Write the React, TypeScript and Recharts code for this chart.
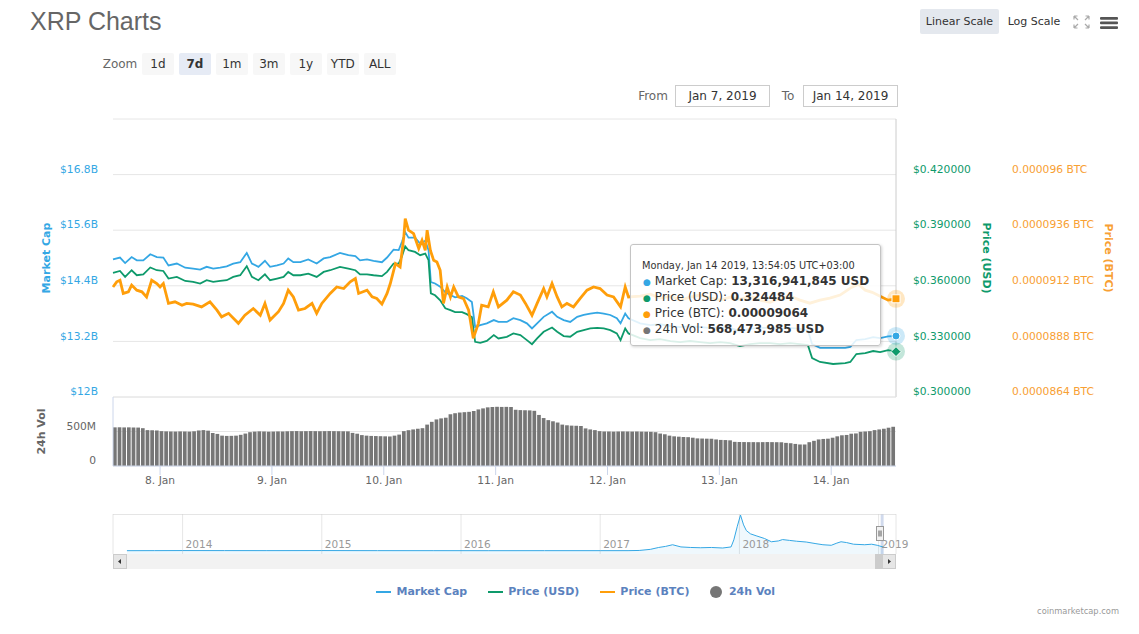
import {
  ComposedChart,
  Line,
  Bar,
  Area,
  XAxis,
  YAxis,
  CartesianGrid,
  ReferenceLine,
  ReferenceArea } from
'recharts';

const FONT = '"DejaVu Sans", Verdana, sans-serif';
const CAP_COLOR = '#34a7e4';
const USD_COLOR = '#0e9a6b';
const BTC_COLOR = '#ff9e0a';
const BTC_TEXT = '#f8a033';
const VOL_COLOR = '#767676';
const AXIS_LINE = '#ccd6eb';
const GRID = '#e6e6e6';

// axis ids: recharts stacks same-side axes in id order, so r1 sits next to the plot
const CAP_AXIS = 'l1cap';
const USD_AXIS = 'r1usd';
const BTC_AXIS = 'r2btc';

// hours since Jan 7 2019 00:00 (UTC+3); the 7d view runs Jan 7 13:54 → Jan 14 13:54
const VIEW_START = 13.9;
const VIEW_END = 181.9;

const dayTicks = [24, 48, 72, 96, 120, 144, 168];
const dayLabels = ['8. Jan', '9. Jan', '10. Jan', '11. Jan', '12. Jan', '13. Jan', '14. Jan'];

const capTicks = [12, 13.2, 14.4, 15.6, 16.8, 18];
const usdTicks = [0.3, 0.33, 0.36, 0.39, 0.42, 0.45];
const btcTicks = [8640, 8880, 9120, 9360, 9600, 9840]; // satoshi
const volTicks = [0, 500, 1000]; // millions

// market cap (billion USD) and price (USD) share the same sample times
const capHours = [
13.9, 15.4, 16.5, 17.9, 19.0, 20.4, 21.9, 23.3, 24.7, 25.8, 27.6, 29.4, 31.1, 32.6, 34.0, 35.4,
36.9, 38.3, 39.7, 41.2, 42.6, 43.7, 45.1, 46.5, 47.6, 49.1, 50.5, 51.5, 52.6, 54.1, 55.8, 57.6,
59.1, 60.5, 62.6, 64.4, 65.9, 66.9, 68.4, 69.8, 71.6, 72.7, 74.1, 75.2, 75.9, 76.6, 77.3, 78.7,
79.8, 80.9, 81.6, 82.1, 83.0, 84.1, 85.2, 86.3, 87.3, 88.8, 89.8, 90.9, 91.6, 92.7, 94.1, 95.6,
96.6, 98.4, 99.8, 101.3, 102.7, 103.8, 104.9, 106.3, 108.1, 109.2, 110.6, 112.0, 113.5, 114.9,
116.3, 117.8, 119.2, 120.6, 122.0, 122.8, 123.8, 124.5, 127.0, 129.2, 131.3, 133.5, 135.6, 137.7,
139.9, 142.0, 144.2, 146.3, 148.4, 150.6, 152.7, 154.9, 157.0, 159.2, 161.3, 163.0, 163.9, 165.6,
168.4, 171.0, 172.1, 173.4, 175.3, 177.0, 178.5, 180.2, 181.9];

const capValues = [
14.97, 15.01, 14.89, 15.02, 14.95, 14.95, 15.08, 15.02, 15.01, 14.84, 14.88, 14.79, 14.77, 14.75, 14.81, 14.77,
14.79, 14.82, 14.88, 14.91, 15.11, 14.88, 14.81, 14.94, 14.81, 14.84, 14.88, 14.99, 14.91, 14.91, 14.97, 14.88,
14.99, 15.02, 15.11, 15.06, 15.04, 14.95, 14.97, 14.94, 14.91, 15.01, 15.18, 15.17, 15.35, 15.56, 15.44, 15.44,
15.31, 15.37, 15.17, 14.48, 14.45, 14.38, 14.26, 14.20, 14.15, 14.18, 14.13, 14.05, 13.51, 13.55, 13.59, 13.66,
13.62, 13.62, 13.70, 13.66, 13.59, 13.48, 13.59, 13.73, 13.84, 13.73, 13.66, 13.62, 13.73, 13.77,
13.80, 13.82, 13.80, 13.77, 13.70, 13.59, 13.80, 13.70, 13.59, 13.55, 13.57, 13.53, 13.51, 13.53,
13.51, 13.49, 13.51, 13.49, 13.42, 13.47, 13.49, 13.49, 13.47, 13.49, 13.47, 13.44, 13.14, 13.06,
13.06, 13.06, 13.08, 13.23, 13.25, 13.29, 13.27, 13.31, 13.316941845];

const usdValues = [
0.3670, 0.3680, 0.3648, 0.3684, 0.3657, 0.3662, 0.3699, 0.3684, 0.3680, 0.3639, 0.3648, 0.3626, 0.3621, 0.3612, 0.3630, 0.3621,
0.3626, 0.3630, 0.3648, 0.3657, 0.3706, 0.3648, 0.3630, 0.3662, 0.3630, 0.3639, 0.3648, 0.3675, 0.3657, 0.3657, 0.3666, 0.3648,
0.3675, 0.3684, 0.3702, 0.3693, 0.3684, 0.3662, 0.3662, 0.3657, 0.3652, 0.3675, 0.3720, 0.3720, 0.3759, 0.3813, 0.3792, 0.3783,
0.3765, 0.3774, 0.3738, 0.3559, 0.3549, 0.3522, 0.3479, 0.3469, 0.3458, 0.3458, 0.3447, 0.3431, 0.3298, 0.3292, 0.3303, 0.3334,
0.3316, 0.3325, 0.3343, 0.3334, 0.3307, 0.3285, 0.3316, 0.3352, 0.3375, 0.3352, 0.3329, 0.3325, 0.3352, 0.3361,
0.3370, 0.3373, 0.3370, 0.3361, 0.3343, 0.3307, 0.3370, 0.3343, 0.3318, 0.3307, 0.3312, 0.3302, 0.3296, 0.3302,
0.3296, 0.3291, 0.3296, 0.3291, 0.3275, 0.3285, 0.3291, 0.3291, 0.3285, 0.3291, 0.3285, 0.3280, 0.3210, 0.3189,
0.3178, 0.3183, 0.3189, 0.3232, 0.3237, 0.3248, 0.3242, 0.3253, 0.324484];

// price in BTC, stored in satoshi
const btcHours = [
13.9, 14.7, 15.4, 16.1, 17.2, 17.9, 19.0, 20.1, 21.1, 22.2, 23.3, 24.0, 24.7, 25.8, 27.2, 28.7,
29.7, 31.1, 32.9, 34.7, 36.2, 37.2, 38.7, 40.8, 42.2, 44.0, 45.5, 46.5, 47.6, 49.4, 50.5, 51.5,
52.6, 53.7, 55.1, 56.6, 57.6, 58.7, 60.5, 61.9, 63.4, 64.8, 65.9, 66.6, 68.4, 69.5, 70.5, 71.6,
72.7, 73.4, 74.5, 75.5, 76.3, 76.6, 77.3, 78.4, 79.5, 80.2, 80.9, 81.3, 82.0, 82.7, 83.4, 84.1,
84.8, 85.6, 86.3, 87.0, 88.0, 89.1, 90.2, 91.2, 92.3, 93.0, 94.4, 95.5, 96.6, 98.4, 99.8, 101.3,
102.4, 103.8, 104.9, 106.3, 107.0, 108.1, 109.2, 110.2, 111.3, 112.7, 114.1, 115.6, 117.0, 118.4,
119.9, 121.3, 122.8, 123.8, 124.5, 127.0, 129.2, 131.3, 133.5, 135.6, 137.7, 139.9, 142.0, 144.2,
146.3, 148.4, 150.6, 152.7, 154.9, 157.0, 159.2, 161.3, 163.4, 165.6, 167.7, 169.9, 172.1, 173.8,
175.3, 176.8, 178.5, 180.2, 181.9];

const btcSats = [
9115, 9137, 9144, 9087, 9094, 9123, 9101, 9094, 9072, 9144, 9130, 9115, 9130, 9044, 9051, 9036,
9044, 9041, 9029, 9051, 9015, 8986, 9001, 8958, 8993, 9022, 8993, 9044, 8972, 9008, 9044, 9101,
9072, 9015, 9022, 9044, 9001, 9044, 9087, 9115, 9108, 9137, 9151, 9087, 9101, 9072, 9065, 9041,
9087, 9130, 9216, 9201, 9331, 9410, 9360, 9345, 9281, 9316, 9273, 9360, 9273, 9230, 9223, 9187,
9044, 9115, 9072, 9115, 9072, 9065, 9015, 8893, 8958, 9036, 9029, 9094, 9029, 9058, 9094, 9080,
9044, 8993, 9044, 9108, 9072, 9130, 9072, 9029, 9044, 9029, 9065, 9101, 9115, 9108,
9080, 9072, 9029, 9115, 9072, 9075, 9084, 9067, 9075, 9058, 9071, 9080, 9067, 9058,
9071, 9062, 9075, 9058, 9049, 9067, 9075, 9058, 9045, 9058, 9067, 9080, 9110, 9127,
9101, 9092, 9075, 9058, 9064];

// hourly 24h volume, million USD
const volValues = [
560, 561, 559, 560, 558, 557, 548, 520, 518, 515, 505, 502, 500, 499, 501, 500, 498, 503,
515, 520, 512, 478, 465, 440, 436, 437, 440, 452, 470, 490, 498, 502, 500, 497, 499, 501, 500,
503, 505, 506, 504, 505, 506, 505, 504, 505, 506, 505, 504, 503, 502, 480, 468,
448, 440, 436, 434, 432, 430, 428, 440, 455, 505, 519, 530, 540, 548, 600, 640,
675, 690, 700, 750, 765, 775, 780, 785, 797, 820, 835, 850, 855, 858, 856, 857, 855,
815, 810, 808, 806, 800, 740, 695, 665, 648, 630, 600, 590, 585, 583, 580, 545, 530, 520,
505, 500, 500, 498, 500, 501, 500, 499, 500, 498, 497, 495, 490, 470, 460,
440, 430, 425, 420, 418, 410, 400, 398, 396, 395, 385, 378, 376, 372,
350, 348, 347, 346, 346, 345, 346, 347, 346, 345, 344, 335, 330, 320, 312, 312, 345, 365,
385, 392, 396, 410, 430, 445, 450, 468, 472, 495, 500, 505, 520, 530, 540, 555, 568.473985];

// navigator: full-history market cap (billion USD) by year
const navYears = [
2013.6, 2013.8, 2014.0, 2014.3, 2014.6, 2015.0, 2015.4, 2015.8, 2016.2, 2016.6, 2017.0, 2017.2,
2017.28, 2017.36, 2017.42, 2017.47, 2017.52, 2017.58, 2017.65, 2017.72, 2017.8, 2017.88, 2017.94,
2017.96, 2017.985, 2018.008, 2018.03, 2018.05, 2018.08, 2018.12, 2018.18, 2018.23, 2018.28, 2018.31,
2018.36, 2018.41, 2018.48, 2018.55, 2018.6, 2018.66, 2018.7, 2018.73, 2018.77, 2018.82, 2018.9,
2018.95, 2018.99, 2019.035];
const navCap = [
0.2, 0.4, 0.6, 0.5, 0.4, 0.6, 0.3, 0.25, 0.2, 0.25, 0.25, 0.3,
1.0, 5, 12, 16, 22, 14, 12, 11, 12, 10, 14,
40, 90, 131, 95, 74, 62, 55, 45, 33, 36, 41,
38, 35, 32, 26, 22, 20, 28, 33, 30, 24, 22,
24, 20, 13.3];
const navTicks = [2014, 2015, 2016, 2017, 2018, 2019];

const zoomButtons = ['1d', '7d', '1m', '3m', '1y', 'YTD', 'ALL'];
const legendItems = [
{ name: 'Market Cap', color: CAP_COLOR, kind: 'line' },
{ name: 'Price (USD)', color: USD_COLOR, kind: 'line' },
{ name: 'Price (BTC)', color: BTC_COLOR, kind: 'line' },
{ name: '24h Vol', color: VOL_COLOR, kind: 'dot' }];

const TOOLTIP_DATE = 'Monday, Jan 14 2019, 13:54:05 UTC+03:00';

const capData = capHours.map((t, i) => ({ t, v: capValues[i] }));
const usdData = capHours.map((t, i) => ({ t, v: usdValues[i] }));
const btcData = btcHours.map((t, i) => ({ t, v: btcSats[i] }));
const volData = volValues.map((v, i) => ({ t: VIEW_START + 0.5 + i, v }));
const navData = navYears.map((t, i) => ({ t, v: navCap[i] }));

const fmtCap = (v: number) => `$${+v.toFixed(1)}B`;
const fmtUsd = (v: number) => `$${v.toFixed(6)}`;
const fmtBtc = (v: number) => `${+(v / 1e8).toFixed(8)} BTC`;
const fmtVol = (v: number) => v === 0 ? '0' : `${v}M`;

// tick label that sits a few px above its grid line (Highcharts style)
function sideTick(color: string, anchor: 'start' | 'end', fmt: (v: number) => string, hideValue: number) {
  return (props: any) => {
    const { x, y, payload } = props;
    if (Math.abs(payload.value - hideValue) < 1e-9) return <g />;
    return (
      <text x={x} y={y - 5.5} dy="0.35em" textAnchor={anchor} fill={color} fontSize={10.7} fontFamily={FONT}>
        {fmt(payload.value)}
      </text>);

  };
}

// rotated axis title, placed relative to the axis box recharts hands over
function AxisTitle({ viewBox, text, color, shiftX, rot }: any) {
  if (!viewBox) return null;
  const cx = viewBox.x + shiftX;
  const cy = viewBox.y + viewBox.height / 2;
  return (
    <text
      x={cx}
      y={cy}
      transform={`rotate(${rot} ${cx} ${cy})`}
      textAnchor="middle"
      dominantBaseline="central"
      fill={color}
      fontSize={11}
      fontWeight="bold"
      fontFamily={FONT}>
      {text}
    </text>);

}

// hover halo + marker on the last point of each series
function endMarker(shape: 'circle' | 'diamond' | 'square', color: string, lastIndex: number) {
  return (props: any) => {
    const { cx, cy, index } = props;
    if (index !== lastIndex || cx == null || cy == null) return <g key={`d${index}`} />;
    return (
      <g key={`d${index}`}>
        <circle cx={cx} cy={cy} r={9} fill={color} fillOpacity={0.25} />
        {shape === 'circle' && <circle cx={cx} cy={cy} r={4} fill={color} stroke="#fff" strokeWidth={1} />}
        {shape === 'diamond' &&
        <path d={`M${cx},${cy - 5}L${cx + 5},${cy}L${cx},${cy + 5}L${cx - 5},${cy}Z`} fill={color} stroke="#fff" strokeWidth={1} />
        }
        {shape === 'square' && <rect x={cx - 4} y={cy - 4} width={8} height={8} fill={color} stroke="#fff" strokeWidth={1} />}
      </g>);

  };
}

function dayTickLabel(v: number) {
  const i = dayTicks.indexOf(v);
  return i >= 0 ? dayLabels[i] : '';
}

function NavTick(props: any) {
  const { x, y, payload } = props;
  return (
    <text x={x + 3} y={y - 6} fill="#999" fontSize={10.5} fontFamily={FONT}>
      {payload.value}
    </text>);

}

function MainPane() {
  return (
    <ComposedChart width={1139} height={298} margin={{ top: 10, right: 0, bottom: 10, left: 0 }}>
      <CartesianGrid yAxisId={CAP_AXIS} vertical={false} stroke={GRID} />
      <XAxis dataKey="t" type="number" domain={[VIEW_START, VIEW_END]} hide />
      <YAxis
        yAxisId={CAP_AXIS}
        orientation="left"
        width={113}
        domain={[12, 18]}
        ticks={capTicks}
        interval={0}
        axisLine={false}
        tickLine={false}
        tickSize={0}
        tickMargin={15}
        tick={sideTick(CAP_COLOR, 'end', fmtCap, 18)}
        label={<AxisTitle text="Market Cap" color={CAP_COLOR} shiftX={46.5} rot={-90} />} />

      <YAxis
        yAxisId={USD_AXIS}
        orientation="right"
        width={116}
        domain={[0.3, 0.45]}
        ticks={usdTicks}
        interval={0}
        axisLine={{ stroke: '#cccccc' }}
        tickLine={false}
        tickSize={0}
        tickMargin={17}
        tick={sideTick(USD_COLOR, 'start', fmtUsd, 0.45)}
        label={<AxisTitle text="Price (USD)" color={USD_COLOR} shiftX={90} rot={90} />} />

      <YAxis
        yAxisId={BTC_AXIS}
        orientation="right"
        width={127}
        domain={[8640, 9840]}
        ticks={btcTicks}
        interval={0}
        axisLine={false}
        tickLine={false}
        tickSize={0}
        tickMargin={0}
        tick={sideTick(BTC_TEXT, 'start', fmtBtc, 9840)}
        label={<AxisTitle text="Price (BTC)" color={BTC_TEXT} shiftX={96} rot={90} />} />

      <Line
        yAxisId={CAP_AXIS}
        data={capData}
        dataKey="v"
        type="linear"
        stroke={CAP_COLOR}
        strokeWidth={1.8}
        dot={endMarker('circle', CAP_COLOR, capData.length - 1)}
        activeDot={false}
        isAnimationActive={false} />

      <Line
        yAxisId={USD_AXIS}
        data={usdData}
        dataKey="v"
        type="linear"
        stroke={USD_COLOR}
        strokeWidth={1.8}
        dot={endMarker('diamond', USD_COLOR, usdData.length - 1)}
        activeDot={false}
        isAnimationActive={false} />

      <Line
        yAxisId={BTC_AXIS}
        data={btcData}
        dataKey="v"
        type="linear"
        stroke={BTC_COLOR}
        strokeWidth={2.8}
        dot={endMarker('square', BTC_COLOR, btcData.length - 1)}
        activeDot={false}
        isAnimationActive={false} />

    </ComposedChart>);

}

function VolumePane() {
  return (
    <ComposedChart width={1139} height={110} data={volData} margin={{ top: 10, right: 243, bottom: 0, left: 0 }}>
      <CartesianGrid vertical={false} stroke={GRID} />
      <XAxis
        dataKey="t"
        type="number"
        domain={[VIEW_START, VIEW_END]}
        ticks={dayTicks}
        interval={0}
        height={31}
        tickSize={9}
        tickMargin={1}
        tickLine={{ stroke: AXIS_LINE }}
        axisLine={{ stroke: AXIS_LINE }}
        tickFormatter={dayTickLabel}
        tick={{ fill: '#666', fontSize: 10.7, fontFamily: FONT }} />

      <YAxis
        width={113}
        domain={[0, 1000]}
        ticks={volTicks}
        interval={0}
        axisLine={{ stroke: AXIS_LINE }}
        tickLine={false}
        tickSize={0}
        tickMargin={17}
        tick={sideTick('#666', 'end', fmtVol, 1000)}
        label={<AxisTitle text="24h Vol" color="#666" shiftX={41} rot={-90} />} />

      <Bar dataKey="v" fill={VOL_COLOR} barSize={3.7} isAnimationActive={false} />
    </ComposedChart>);

}

function NavigatorPane() {
  return (
    <ComposedChart width={1139} height={41} data={navData} margin={{ top: 0, right: 243, bottom: 0, left: 113 }}>
      <CartesianGrid horizontal={false} stroke={GRID} />
      <XAxis
        dataKey="t"
        type="number"
        domain={[2013.5, 2019.125]}
        ticks={navTicks}
        interval={0}
        height={1}
        tickSize={0}
        tickMargin={0}
        axisLine={false}
        tickLine={false}
        tick={NavTick} />

      <YAxis hide domain={[-12, 135]} allowDataOverflow />
      <ReferenceLine y={135} stroke="#cccccc" />
      <ReferenceArea x1={2019.015} x2={2019.036} fill="rgb(102,133,194)" fillOpacity={0.3} stroke="none" />
      <Area
        dataKey="v"
        type="linear"
        baseValue={-12}
        stroke={CAP_COLOR}
        strokeWidth={1}
        fill={CAP_COLOR}
        fillOpacity={0.08}
        isAnimationActive={false} />

    </ComposedChart>);

}

function Tooltipbox() {
  const last = (a: number[]) => a[a.length - 1];
  const rows = [
  { color: CAP_COLOR, label: 'Market Cap', value: `${Math.round(last(capValues) * 1e9).toLocaleString('en-US')} USD` },
  { color: USD_COLOR, label: 'Price (USD)', value: last(usdValues).toFixed(6) },
  { color: BTC_COLOR, label: 'Price (BTC)', value: (last(btcSats) / 1e8).toFixed(8) },
  { color: VOL_COLOR, label: '24h Vol', value: `${Math.round(last(volValues) * 1e6).toLocaleString('en-US')} USD` }];

  return (
    <div
      style={{
        position: 'absolute',
        left: 630,
        top: 244,
        width: 249,
        height: 100,
        background: 'rgba(255,255,255,0.85)',
        border: '1px solid #c4c4c4',
        borderRadius: 3,
        boxShadow: '1px 1px 3px rgba(0,0,0,0.18)',
        color: '#333',
        fontFamily: FONT
      }}>
      <div style={{ position: 'absolute', left: 11, top: 14, height: 14, lineHeight: '14px', fontSize: 9.8, whiteSpace: 'nowrap' }}>
        {TOOLTIP_DATE}
      </div>
      {rows.map((r, i) =>
      <div
        key={r.label}
        style={{ position: 'absolute', left: 12, top: 28 + i * 16, height: 16, lineHeight: '16px', fontSize: 12, whiteSpace: 'nowrap' }}>
          <span style={{ color: r.color, fontSize: 9, marginRight: 4 }}>{'\u25CF'}</span>
          {r.label}: <b>{r.value}</b>
        </div>
      )}
    </div>);

}

const box = (left: number, top: number, w: number, h: number): React.CSSProperties => ({
  position: 'absolute',
  left,
  top,
  width: w,
  height: h,
  lineHeight: `${h}px`,
  textAlign: 'center',
  whiteSpace: 'nowrap'
});

export default function App() {
  return (
    <div
      style={{
        position: 'absolute',
        left: 0,
        top: 0,
        width: 1139,
        height: 634,
        overflow: 'hidden',
        background: '#fff',
        fontFamily: FONT,
        color: '#333'
      }}>

      {/* header */}
      <div style={{ position: 'absolute', left: 30, top: 9, fontFamily: '"Liberation Sans", Arial, sans-serif', fontSize: 25, lineHeight: '25px', color: '#666' }}>
        XRP Charts
      </div>

      <div style={{ ...box(100, 53, 40, 22), fontSize: 12, color: '#666' }}>Zoom</div>
      {zoomButtons.map((b, i) => {
        const active = b === '7d';
        return (
          <div
            key={b}
            style={{
              ...box(142 + i * 36.95, 53, 32, 22),
              fontSize: 12,
              background: active ? '#e6ebf5' : '#f7f7f7',
              fontWeight: active ? 'bold' : 'normal',
              color: '#333',
              borderRadius: 2
            }}>
            {b}
          </div>);

      })}

      <div style={{ ...box(920, 9, 79, 25), fontSize: 11, background: '#e4e8ee', borderRadius: 2 }}>Linear Scale</div>
      <div style={{ ...box(1003, 9, 62, 25), fontSize: 11 }}>Log Scale</div>
      <svg style={{ position: 'absolute', left: 1073, top: 15 }} width={17} height={14} viewBox="0 0 17 14">
        <g stroke="#aaa" strokeWidth={1.2} fill="none">
          <path d="M1 1 L5 5 M1 1 L4.5 1 M1 1 L1 4.5" />
          <path d="M16 1 L12 5 M16 1 L12.5 1 M16 1 L16 4.5" />
          <path d="M1 13 L5 9 M1 13 L4.5 13 M1 13 L1 9.5" />
          <path d="M16 13 L12 9 M16 13 L12.5 13 M16 13 L16 9.5" />
        </g>
      </svg>
      <svg style={{ position: 'absolute', left: 1100, top: 16 }} width={18} height={14} viewBox="0 0 18 14">
        <rect x={0} y={1} width={18} height={2.7} fill="#555" rx={1} />
        <rect x={0} y={5.6} width={18} height={2.7} fill="#555" rx={1} />
        <rect x={0} y={10.2} width={18} height={2.7} fill="#555" rx={1} />
      </svg>

      <div style={{ ...box(636, 85, 34, 22), fontSize: 12, color: '#666' }}>From</div>
      <div style={{ ...box(675, 85, 95, 22), fontSize: 12, border: '1px solid #ccc', boxSizing: 'border-box', lineHeight: '20px' }}>
        Jan 7, 2019
      </div>
      <div style={{ ...box(778, 85, 20, 22), fontSize: 12, color: '#666' }}>To</div>
      <div style={{ ...box(803, 85, 95, 22), fontSize: 12, border: '1px solid #ccc', boxSizing: 'border-box', lineHeight: '20px' }}>
        Jan 14, 2019
      </div>

      {/* price pane */}
      <div style={{ position: 'absolute', left: 0, top: 109 }}>
        <MainPane />
      </div>

      {/* volume pane */}
      <div style={{ position: 'absolute', left: 0, top: 387 }}>
        <VolumePane />
      </div>

      {/* navigator */}
      <div style={{ position: 'absolute', left: 0, top: 514 }}>
        <NavigatorPane />
      </div>
      <div style={{ position: 'absolute', left: 113, top: 554, width: 783, height: 15, background: '#f2f2f2' }} />
      <div style={{ position: 'absolute', left: 875, top: 554, width: 7, height: 15, background: '#cccccc' }} />
      <div
        style={{
          position: 'absolute', left: 113, top: 554, width: 14, height: 15, boxSizing: 'border-box',
          background: '#e6e6e6', border: '1px solid #cccccc'
        }}>
        <svg width={12} height={13} style={{ position: 'absolute', left: 0, top: 0 }}>
          <path d="M4 6.5 L7 4 L7 9 Z" fill="#333" />
        </svg>
      </div>
      <div
        style={{
          position: 'absolute', left: 882, top: 554, width: 14, height: 15, boxSizing: 'border-box',
          background: '#e6e6e6', border: '1px solid #cccccc'
        }}>
        <svg width={12} height={13} style={{ position: 'absolute', left: 0, top: 0 }}>
          <path d="M8 6.5 L5 4 L5 9 Z" fill="#333" />
        </svg>
      </div>
      <div
        style={{
          position: 'absolute', left: 876, top: 526, width: 8, height: 15, boxSizing: 'border-box',
          background: '#f2f2f2', border: '1px solid #999'
        }}>
        <svg width={6} height={13} style={{ position: 'absolute', left: 0, top: 0 }}>
          <path d="M2 3.5 V9.5 M4 3.5 V9.5" stroke="#333" strokeWidth={0.8} />
        </svg>
      </div>

      <Tooltipbox />

      {/* legend */}
      <div style={{ position: 'absolute', left: 376, top: 584, height: 16, display: 'flex', alignItems: 'center', gap: 20.5 }}>
        {legendItems.map((it) =>
        <div key={it.name} style={{ display: 'flex', alignItems: 'center', gap: it.kind === 'line' ? 5.5 : 7 }}>
            {it.kind === 'line' ?
          <span style={{ display: 'inline-block', width: 15, height: 2, background: it.color }} /> :

          <span style={{ display: 'inline-block', width: 12, height: 12, borderRadius: 6, background: it.color }} />
          }
            <span style={{ fontSize: 11, fontWeight: 'bold', color: '#5b82be', lineHeight: '16px' }}>{it.name}</span>
          </div>
        )}
      </div>

      <div style={{ position: 'absolute', right: 20, top: 604, fontSize: 8.3, color: '#999', lineHeight: '14px' }}>coinmarketcap.com</div>
    </div>);

}
